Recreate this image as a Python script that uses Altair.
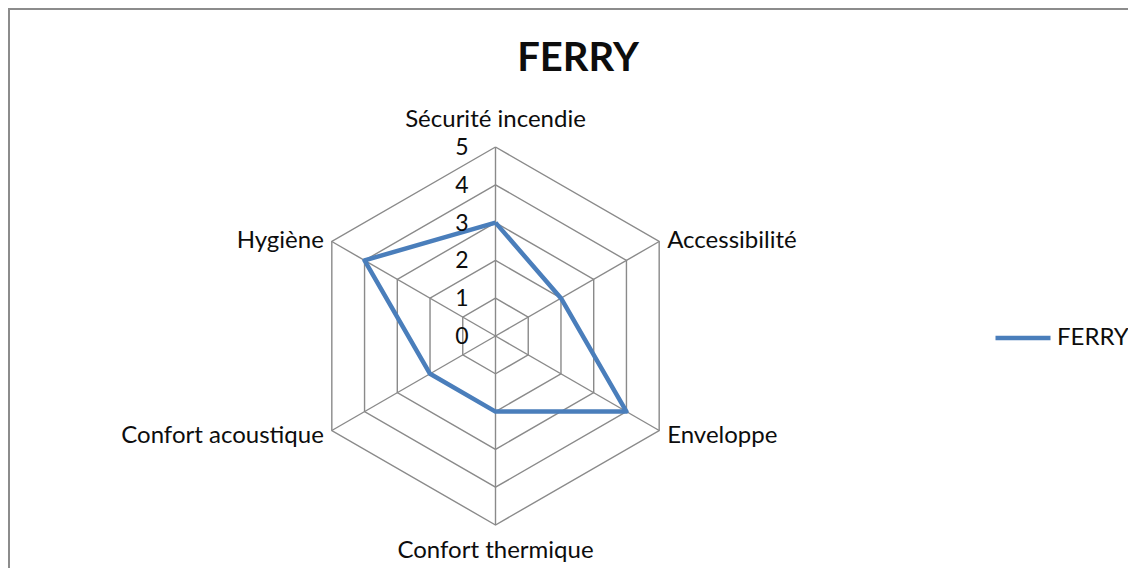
import math
import altair as alt
import pandas as pd

# ---- data ----
categories = ["Sécurité incendie", "Accessibilité", "Enveloppe",
              "Confort thermique", "Confort acoustique", "Hygiène"]
values = [3, 2, 4, 2, 2, 4]
series_name = "FERRY"
levels = [1, 2, 3, 4, 5]
tick_labels = [0, 1, 2, 3, 4, 5]

FONT = "Lato"
W, H = 1120, 560
UNIT = 37.8
CX, CY = 487.5, 328.0
XDOM = [-CX / UNIT, (W - CX) / UNIT]
YDOM = [-(H - CY) / UNIT, CY / UNIT]
n = len(categories)


def polar(r, i):
    a = 2 * math.pi * i / n
    return r * math.sin(a), r * math.cos(a)


rings = []
for lv in levels:
    for k in range(n + 1):
        x, y = polar(lv, k % n)
        rings.append({"level": lv, "k": k, "x": x, "y": y})
rings = pd.DataFrame(rings)

spokes = []
for i, c in enumerate(categories):
    x, y = polar(max(levels), i)
    spokes.append({"cat": c, "x0": 0.0, "y0": 0.0, "x": x, "y": y})
spokes = pd.DataFrame(spokes)

poly = []
for k in range(n + 1):
    i = k % n
    x, y = polar(values[i], i)
    poly.append({"series": series_name, "k": k, "x": x, "y": y, "cat": categories[i], "value": values[i]})
poly = pd.DataFrame(poly)

ticks = pd.DataFrame({"t": tick_labels, "x": [0.0] * len(tick_labels),
                      "y": [float(t) for t in tick_labels],
                      "label": [str(t) for t in tick_labels]})

labs = []
for i, c in enumerate(categories):
    x, y = polar(max(levels), i)
    labs.append({"cat": c, "i": i, "x": x, "y": y})
labs = pd.DataFrame(labs)

xs = alt.Scale(domain=XDOM, nice=False, zero=False)
ys = alt.Scale(domain=YDOM, nice=False, zero=False)
X = lambda f: alt.X(f, type="quantitative", scale=xs, axis=None)
Y = lambda f: alt.Y(f, type="quantitative", scale=ys, axis=None)

grid_col = "#8a8a8a"
txt_col = "#0d0d0d"
LAB_FS = 24

ring_layer = alt.Chart(rings).mark_line(stroke=grid_col, strokeWidth=1.4).encode(
    x=X("x"), y=Y("y"), detail="level:N", order="k:Q")

spoke_layer = alt.Chart(spokes).mark_rule(stroke=grid_col, strokeWidth=1.4).encode(
    x=X("x0"), y=Y("y0"), x2="x", y2="y")

data_layer = alt.Chart(poly).mark_line(strokeWidth=4.5, strokeJoin="round").encode(
    x=X("x"), y=Y("y"), order="k:Q",
    color=alt.Color("series:N",
                    scale=alt.Scale(domain=[series_name], range=["#4a7ebb"]),
                    legend=alt.Legend(title=None, orient="none", legendX=985, legendY=300,
                                      symbolType="stroke", symbolSize=3025,
                                      symbolStrokeWidth=4.5, labelFont=FONT,
                                      labelFontSize=LAB_FS, labelColor=txt_col,
                                      labelOffset=4, padding=0)))

tick_layer = alt.Chart(ticks).mark_text(align="right", baseline="middle", dx=-27, dy=1,
                                        font=FONT, fontSize=23, color=txt_col).encode(
    x=X("x"), y=Y("y"), text="label:N")


def lab_layer(idx, **kw):
    return alt.Chart(labs).transform_filter(
        alt.FieldOneOfPredicate(field="i", oneOf=idx)
    ).mark_text(font=FONT, fontSize=LAB_FS, color=txt_col, **kw).encode(
        x=X("x"), y=Y("y"), text="cat:N")


lab_top = lab_layer([0], align="center", baseline="alphabetic", dy=-20)
lab_bot = lab_layer([3], align="center", baseline="alphabetic", dy=33)
lab_ru = lab_layer([1], align="left", baseline="alphabetic", dx=8, dy=6)
lab_rl = lab_layer([2], align="left", baseline="alphabetic", dx=8, dy=12)
lab_lu = lab_layer([5], align="right", baseline="alphabetic", dx=-8, dy=6)
lab_ll = lab_layer([4], align="right", baseline="alphabetic", dx=-8, dy=12)

one = pd.DataFrame({"title": [series_name]})
title_layer = alt.Chart(one).mark_text(font=FONT, fontSize=40, fontWeight="bold", color=txt_col,
                                       align="center", baseline="alphabetic").encode(
    x=alt.value(570), y=alt.value(63), text="title:N")

border_top = alt.Chart(one).mark_rule(stroke="#8c8c8c", strokeWidth=2).encode(
    x=alt.value(0), x2=alt.value(W), y=alt.value(1))
border_left = alt.Chart(one).mark_rule(stroke="#8c8c8c", strokeWidth=2).encode(
    x=alt.value(1), y=alt.value(0), y2=alt.value(H))

chart = alt.layer(
    border_top, border_left, ring_layer, spoke_layer, data_layer, tick_layer,
    lab_top, lab_bot, lab_ru, lab_rl, lab_lu, lab_ll, title_layer
).properties(
    width=W, height=H,
    autosize=alt.AutoSizeParams(type="none"),
    padding=0,
).configure_view(stroke=None).configure(background="white")

chart.save("out.html", embed_options={"renderer": "svg", "actions": False})
